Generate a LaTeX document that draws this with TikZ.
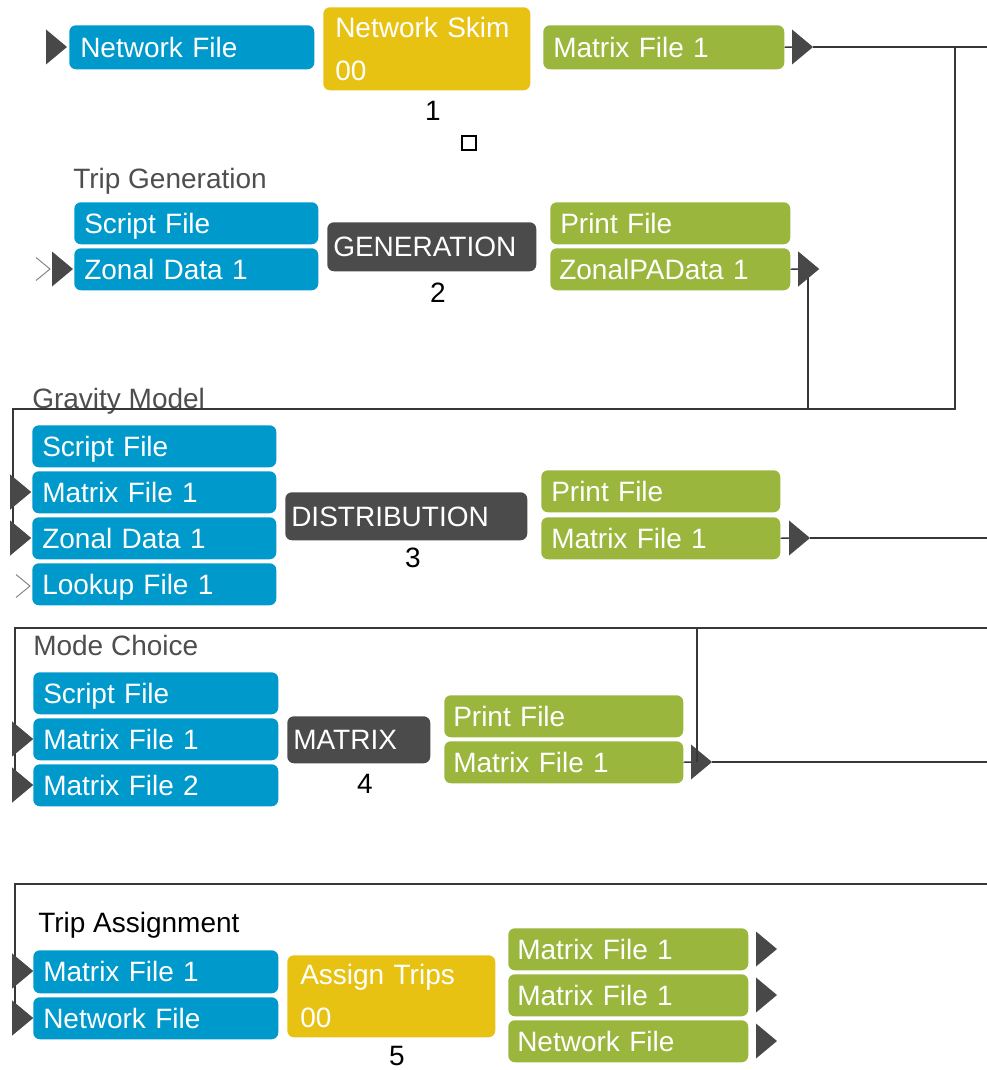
\documentclass[tikz,border=0pt]{standalone}
\usepackage{fontspec}
\setmainfont{Liberation Sans}
\usetikzlibrary{calc}
\definecolor{inblue}{RGB}{0,153,204}
\definecolor{outgreen}{RGB}{154,182,60}
\definecolor{progyellow}{RGB}{232,194,18}
\definecolor{progdark}{RGB}{75,75,75}
\definecolor{portgray}{RGB}{72,72,72}
\definecolor{wiregray}{RGB}{55,55,55}
\definecolor{labelgray}{RGB}{78,78,78}
% style, name, x1, y1, x2, y2, padding, text
\newcommand\fbx[8]{%
  \pgfmathsetlengthmacro\bw{(#5-#3)*0.75pt}%
  \pgfmathsetlengthmacro\bh{(#6-#4)*0.75pt}%
  \pgfmathsetlengthmacro\tw{(#5-#3-2*#7)*0.75pt}%
  \node[#1, anchor=north west, minimum width=\bw, minimum height=\bh, text width=\tw] (#2) at (#3,#4) {#8};}
\tikzset{
  basebox/.style={rounded corners=5pt, inner xsep=0pt, inner ysep=0pt, align=left, text=white,
    font=\fontsize{21}{25}\selectfont},
  oneline/.style={text height=19.5pt, text depth=4.5pt},
  inbox/.style={basebox, oneline, fill=inblue},
  outbox/.style={basebox, oneline, fill=outgreen},
  progbox/.style={basebox, oneline, fill=progdark},
  tripbox/.style={basebox, fill=progyellow, font=\fontsize{21}{32.25}\selectfont},
  grouplabel/.style={anchor=base west, inner sep=0pt, text=labelgray, font=\fontsize{21}{25}\selectfont},
  numlabel/.style={anchor=base, inner sep=0pt, text=black, font=\fontsize{21}{25}\selectfont},
  wire/.style={draw=wiregray, line width=1.1pt},
  chevron/.style={draw=gray, line width=0.7pt},
  port/.pic={\fill[portgray] (-21,-17.5) -- (0,0) -- (-21,17.5) -- cycle;
    \coordinate (-tip) at (0,0); \coordinate (-base) at (-21,0);},
  chev/.pic={\draw[chevron] (-14,-11.5) -- (0,0) -- (-14,11.5); \coordinate (-tip) at (0,0);},
}
\begin{document}
\begin{tikzpicture}[x=0.75pt, y=-0.75pt]
\useasboundingbox (0,0) rectangle (987,1070);

% ---------- Row 1 : Network Skim ----------
\fbx{inbox}{aIn}{69}{25}{314}{69}{11}{Network File}
\fbx{tripbox}{aProg}{323}{7}{530}{90}{12}{Network Skim\\00}
\fbx{outbox}{aOut}{543}{25}{784}{69}{10}{Matrix File 1}
\node[numlabel] (aNum) at (433,121) {1};
\node[draw=black, line width=0.9pt, minimum size=10.5pt, inner sep=0pt] (sq) at (469,143) {};
\pic (pa1) at (67,47) {port};
\pic (pa2) at (813,47) {port};
\coordinate (r1end) at (987,47);
\coordinate (j1) at (955,47);
\coordinate (j2) at (955,409);
\coordinate (j3) at (13,409);

% ---------- Row 2 : Trip Generation ----------
\node[grouplabel] (gLab) at (73,188) {Trip Generation};
\fbx{inbox}{bScript}{74}{202}{318}{244}{10}{Script File}
\fbx{inbox}{bZonal}{74}{248}{318}{290}{10}{Zonal Data 1}
\fbx{progbox}{bProg}{327}{222}{536}{271}{6}{GENERATION}
\node[numlabel] (bNum) at (438,302) {2};
\fbx{outbox}{bPrint}{550}{202}{790}{244}{10}{Print File}
\fbx{outbox}{bOut}{550}{248}{790}{290}{9}{ZonalPAData 1}
\pic (cb1) at (50,269) {chev};
\pic (pb1) at (73,269) {port};
\pic (pb2) at (819,269) {port};
\coordinate (k1) at (808,409);

% ---------- Row 3 : Gravity Model ----------
\node[grouplabel] (dLab) at (32,408) {Gravity Model};
\fbx{inbox}{cScript}{32}{425}{276}{467}{10}{Script File}
\fbx{inbox}{cMat}{32}{471}{276}{513}{10}{Matrix File 1}
\fbx{inbox}{cZonal}{32}{517}{276}{559}{10}{Zonal Data 1}
\fbx{inbox}{cLook}{32}{563}{276}{605}{10}{Lookup File 1}
\fbx{progbox}{cProg}{285}{492}{527}{540}{6}{DISTRIBUTION}
\node[numlabel] (cNum) at (413,567) {3};
\fbx{outbox}{cPrint}{541}{470}{780}{512}{10}{Print File}
\fbx{outbox}{cOut}{541}{517}{780}{559}{10}{Matrix File 1}
\pic (pc1) at (31,492) {port};
\pic (pc2) at (31,538) {port};
\pic (cc1) at (30,586) {chev};
\pic (pc3) at (810,538) {port};
\coordinate (r3end) at (987,538);

% ---------- Row 4 : Mode Choice ----------
\coordinate (m1) at (987,628);
\coordinate (m2) at (15,628);
\coordinate (m3) at (697,628);
\node[grouplabel] (mLab) at (33,655) {Mode Choice};
\fbx{inbox}{dScript}{33}{672}{278}{714}{10}{Script File}
\fbx{inbox}{dMat1}{33}{718}{278}{760}{10}{Matrix File 1}
\fbx{inbox}{dMat2}{33}{764}{278}{806}{10}{Matrix File 2}
\fbx{progbox}{dProg}{287}{716}{430}{763}{6}{MATRIX}
\node[numlabel] (dNum) at (365,793) {4};
\fbx{outbox}{dPrint}{444}{695}{683}{737}{9}{Print File}
\fbx{outbox}{dOut}{444}{741}{683}{783}{9}{Matrix File 1}
\pic (pd1) at (33,739) {port};
\pic (pd2) at (33,785) {port};
\pic (pd3) at (712,762) {port};
\coordinate (r4end) at (987,762);

% ---------- Row 5 : Trip Assignment ----------
\coordinate (n1) at (987,884);
\coordinate (n2) at (15,884);
\node[grouplabel, text=black] (tLab) at (38,932) {Trip Assignment};
\fbx{inbox}{eMat}{33}{950}{278}{993}{10}{Matrix File 1}
\fbx{inbox}{eNet}{33}{997}{278}{1039}{10}{Network File}
\fbx{tripbox}{eProg}{287}{955}{495}{1037}{13}{Assign Trips\\00}
\node[numlabel] (eNum) at (397,1065) {5};
\fbx{outbox}{eOut1}{508}{928}{748}{970}{9}{Matrix File 1}
\fbx{outbox}{eOut2}{508}{974}{748}{1016}{9}{Matrix File 1}
\fbx{outbox}{eOut3}{508}{1020}{748}{1062}{9}{Network File}
\pic (pe1) at (33,971) {port};
\pic (pe2) at (33,1018) {port};
\pic (pe3) at (777,949) {port};
\pic (pe4) at (777,995) {port};
\pic (pe5) at (777,1041) {port};

% ---------- connectors ----------
\draw[wire] (aOut.east) -- (pa2-base);
\draw[wire] (pa2-tip) -- (r1end);
\draw[wire] (j1) -- (j2) -- (j3) |- (pc1-base);
\draw[wire] (j3) |- (pc2-base);
\draw[wire] (bOut.east) -- (pb2-base);
\draw[wire] (k1) -- (k1 |- pb2-base);
\draw[wire] (cOut.east) -- (pc3-base);
\draw[wire] (pc3-tip) -- (r3end);
\draw[wire] (m1) -- (m2) |- (pd1-base);
\draw[wire] (m2) |- (pd2-base);
\draw[wire] (m3) -- (m3 |- pd3-tip);
\draw[wire] (dOut.east) -- (pd3-base);
\draw[wire] (pd3-tip) -- (r4end);
\draw[wire] (n1) -- (n2) |- (pe1-base);
\draw[wire] (n2) |- (pe2-base);

% redraw ports above wires
\pic at (31,492) {port};
\pic at (31,538) {port};
\pic at (33,739) {port};
\pic at (33,785) {port};
\pic at (33,971) {port};
\pic at (33,1018) {port};
\pic at (819,269) {port};
\end{tikzpicture}
\end{document}
